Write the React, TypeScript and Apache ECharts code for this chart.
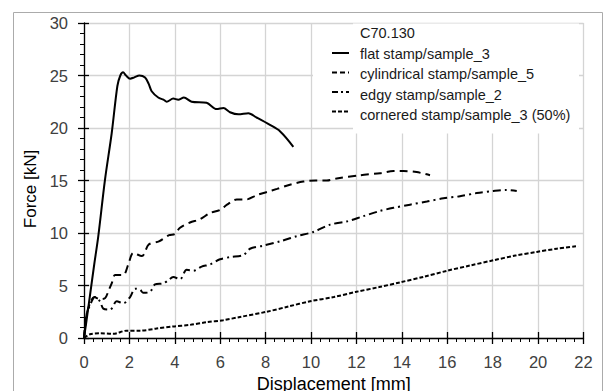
import React, { useEffect, useRef } from 'react';
import * as echarts from 'echarts';

const legendTitle = 'C70.130';
const seriesNames = [
  'flat stamp/sample_3',
  'cylindrical stamp/sample_5',
  'edgy stamp/sample_2',
  'cornered stamp/sample_3 (50%)',
];
const xAxisTitle = 'Displacement [mm]';
const yAxisTitle = 'Force [kN]';

const flat: number[][] = [
  [0, 0], [0.1, 1.5], [0.26, 4], [0.45, 7], [0.63, 9.7], [0.92, 15], [1.22, 19.5],
  [1.47, 24], [1.6, 25], [1.72, 25.3], [1.85, 25.0], [2.03, 24.7], [2.2, 24.8],
  [2.44, 25.0], [2.69, 24.8], [2.85, 24.2], [2.98, 23.5], [3.27, 22.9], [3.5, 22.7],
  [3.64, 22.5], [3.93, 22.8], [4.15, 22.7], [4.4, 22.9], [4.74, 22.5], [5.4, 22.4],
  [5.84, 21.8], [6.14, 21.9], [6.43, 21.5], [6.8, 21.3], [7.24, 21.4], [7.6, 21.0],
  [8.19, 20.3], [8.63, 19.7], [9.22, 18.2],
];
const cylindrical: number[][] = [
  [0, 0], [0.05, 1.1], [0.12, 2.3], [0.3, 3.5], [0.45, 3.9], [0.7, 3.7], [0.93, 3.8],
  [1.1, 4.6], [1.22, 5.2], [1.37, 6.0], [1.73, 6.0], [1.95, 7.0], [2.17, 8.1],
  [2.55, 7.8], [2.85, 8.9], [3.3, 9.2], [3.75, 9.8], [4.0, 9.9], [4.23, 10.5],
  [4.67, 11.0], [5.1, 11.3], [5.55, 11.9], [6.0, 12.2], [6.3, 12.7], [6.73, 13.2],
  [7.17, 13.2], [7.6, 13.6], [8.05, 13.9], [8.5, 14.2], [9.07, 14.6], [9.66, 14.9],
  [10.2, 15.0], [10.7, 15.0], [11.13, 15.2], [12.16, 15.5], [13.04, 15.7],
  [13.63, 15.9], [14.07, 15.9], [14.65, 15.8], [15.24, 15.5],
];
const edgy: number[][] = [
  [0, 0], [0.12, 2.3], [0.26, 3.1], [0.48, 3.9], [0.7, 3.5], [0.85, 2.8], [1.15, 2.7],
  [1.44, 3.5], [1.73, 3.3], [2.03, 3.9], [2.25, 4.7], [2.47, 4.6], [2.61, 4.3],
  [2.91, 4.4], [3.13, 5.1], [3.49, 5.2], [3.71, 5.5], [3.93, 5.8], [4.23, 5.6],
  [4.52, 6.5], [4.82, 6.4], [5.18, 6.8], [5.55, 7.0], [5.99, 7.5], [6.43, 7.7],
  [7.02, 7.9], [7.31, 8.5], [7.9, 8.8], [8.63, 9.2], [9.37, 9.7], [10.1, 10.1],
  [10.84, 10.8], [11.57, 11.1], [12.3, 11.6], [13.04, 12.1], [13.63, 12.4],
  [14.36, 12.7], [15.1, 13.0], [15.83, 13.3], [16.56, 13.5], [17.3, 13.8],
  [18.03, 14.0], [18.6, 14.1], [19.06, 14.0],
];
const cornered: number[][] = [
  [0, 0], [0.26, 0.35], [0.7, 0.45], [1.29, 0.4], [1.88, 0.7], [2.47, 0.7], [3.2, 0.9],
  [3.93, 1.1], [4.67, 1.25], [5.4, 1.5], [6.14, 1.7], [6.87, 2.0], [8.05, 2.5],
  [9.0, 3.0], [9.96, 3.5], [11.0, 3.9], [12.0, 4.4], [13.0, 4.85], [13.92, 5.3],
  [15.0, 5.85], [15.98, 6.4], [17.0, 6.9], [18.03, 7.4], [19.0, 7.85], [19.94, 8.2],
  [20.82, 8.5], [21.76, 8.75],
];

const xMin = 0, xMax = 22, xStep = 2;
const yMin = 0, yMax = 30, yStep = 5;

const FONT = '"Liberation Sans", Arial, sans-serif';

export default function App() {
  const ref = useRef<HTMLDivElement>(null);
  useEffect(() => {
    if (!ref.current) return;
    const chart = echarts.init(ref.current, undefined, { renderer: 'svg' });
    const dashes: any[] = ['solid', [8, 5], [8, 4, 2, 4], [4, 2]];
    const iconDashes: any[] = [null, [5, 3], [6, 3, 2, 3], [4, 2]];
    const datasets = [flat, cylindrical, edgy, cornered];
    const legendLeft = 332, legendTop = 46, rowH = 14, rowGap = 5.5, iconW = 17;
    const baseX = {
      type: 'value', min: xMin, max: xMax, interval: xStep, position: 'bottom',
    };
    const baseY = {
      type: 'value', min: yMin, max: yMax, interval: yStep, position: 'left',
    };
    const legendLines = seriesNames.map((_, i) => {
      const y = legendTop + rowH / 2 + i * (rowH + rowGap);
      return {
        type: 'line', z: 6, silent: true,
        shape: { x1: legendLeft, y1: y, x2: legendLeft + iconW, y2: y },
        style: { stroke: '#000', lineWidth: 2, lineDash: iconDashes[i] || undefined },
      };
    });
    chart.setOption({
      animation: false,
      backgroundColor: '#fff',
      grid: {
        left: 84, right: 21.5, top: 23, bottom: 53,
        containLabel: false, outerBoundsMode: 'none',
      },
      xAxis: [
        {
          ...baseX,
          name: xAxisTitle,
          nameLocation: 'middle',
          nameGap: 35,
          nameTextStyle: { fontSize: 18, color: '#000', fontFamily: FONT },
          axisLine: { show: true, lineStyle: { color: '#000', width: 1.3 } },
          axisTick: { show: true, inside: false, length: 6, lineStyle: { color: '#000', width: 1.3 } },
          minorTick: { show: true, splitNumber: 5, length: 4, lineStyle: { color: '#000', width: 1 } },
          axisLabel: { fontSize: 16.5, color: '#404040', fontFamily: FONT, margin: 15 },
          splitLine: { show: true, lineStyle: { color: '#d4d4d4', width: 1.3 } },
        },
        {
          ...baseX,
          axisLine: { show: false },
          axisTick: { show: true, inside: true, length: 6, lineStyle: { color: '#000', width: 1.3 } },
          axisLabel: { show: false },
          splitLine: { show: false },
        },
      ],
      yAxis: [
        {
          ...baseY,
          axisLine: { show: true, lineStyle: { color: '#000', width: 1.3 } },
          axisTick: { show: true, inside: false, length: 6, lineStyle: { color: '#000', width: 1.3 } },
          minorTick: { show: true, splitNumber: 5, length: 4, lineStyle: { color: '#000', width: 1 } },
          axisLabel: { fontSize: 16.5, color: '#404040', fontFamily: FONT, margin: 16 },
          splitLine: { show: true, lineStyle: { color: '#d4d4d4', width: 1.3 } },
        },
        {
          ...baseY,
          axisLine: { show: false },
          axisTick: { show: true, inside: true, length: 5, lineStyle: { color: '#000', width: 1.3 } },
          axisLabel: { show: false },
          splitLine: { show: false },
        },
      ],
      legend: {
        orient: 'vertical',
        left: legendLeft,
        top: legendTop,
        padding: 0,
        itemWidth: iconW,
        itemHeight: rowH,
        itemGap: rowGap,
        icon: 'rect',
        itemStyle: { color: 'rgba(255,255,255,0)', borderWidth: 0 },
        data: seriesNames,
        textStyle: { fontSize: 14.5, color: '#1a1a1a', fontFamily: FONT, padding: [0, 0, 0, 6] },
        z: 5,
      },
      graphic: [
        {
          type: 'rect', z: 3, silent: true,
          shape: { x: 353, y: 23.5, width: 226, height: 110 },
          style: { fill: '#fff' },
        },
        {
          type: 'rect', z: 3, silent: true,
          shape: { x: 313, y: 42, width: 41, height: 84 },
          style: { fill: '#fff' },
        },
        {
          type: 'text', z: 6, x: 360, y: 33,
          style: { text: legendTitle, fontSize: 14.5, fill: '#1a1a1a', font: `14.5px ${FONT}`, verticalAlign: 'middle' },
        },
        ...legendLines,
        {
          type: 'text', z: 6, x: 30, y: 189, rotation: Math.PI / 2,
          style: { text: yAxisTitle, fontSize: 17, fill: '#000', font: `17px ${FONT}`, align: 'center', verticalAlign: 'middle' },
        },
        {
          type: 'rect', z: 0, silent: true,
          shape: { x: 13.5, y: 12.5, width: 589, height: 400 },
          style: { fill: 'none', stroke: '#ababab', lineWidth: 1 },
        },
      ],
      series: datasets.map((d, i) => ({
        name: seriesNames[i],
        type: 'line',
        data: d,
        symbol: 'none',
        smooth: 0.3,
        xAxisIndex: 0,
        yAxisIndex: 0,
        color: '#000',
        lineStyle: { color: '#000', width: 2, type: dashes[i] },
        z: 2,
      })),
    });
    return () => chart.dispose();
  }, []);
  return (
    <div
      ref={ref}
      style={{ position: 'fixed', left: 0, top: 0, width: 605, height: 391 }}
    />
  );
}
